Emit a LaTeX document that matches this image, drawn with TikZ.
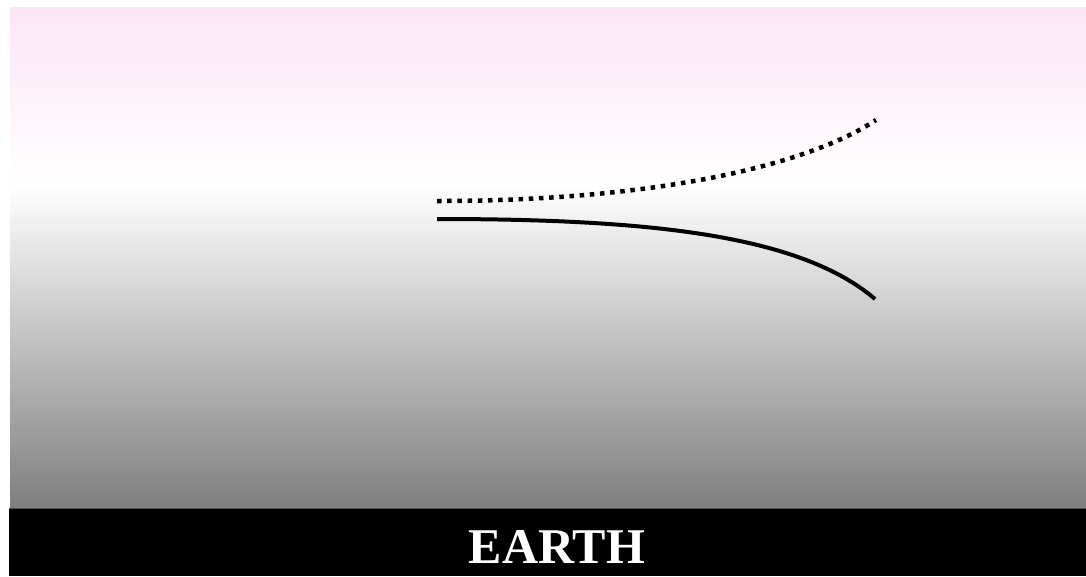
\documentclass[tikz,border=0pt]{standalone}
\usepackage{fontspec}
\setmainfont{Liberation Serif}
\definecolor{skypink}{RGB}{252,229,246}
\definecolor{groundgray}{RGB}{127,127,127}
\tikzset{
  curve/.style={line width=4pt},
  dotcurve/.style={line width=4.5pt, dash pattern=on 4.5pt off 5.7pt}
}
\begin{document}
\begin{tikzpicture}[x=1pt,y=-1pt]
\useasboundingbox (0,0) rectangle (1086,576);
\fill[white] (0,0) rectangle (1086,576);
% sky: pink to white, linear
\foreach \i in {0,...,178} {
  \pgfmathsetmacro{\p}{(100/178)*\i}
  \fill[white!\p!skypink] (10,7+\i) rectangle (1086,8.2+\i);
}
% ground haze: white to gray, linear
\foreach \i in {0,...,323} {
  \pgfmathsetmacro{\p}{100-(100/323)*\i}
  \fill[white!\p!groundgray] (10,185+\i) rectangle (1086,186.2+\i);
}
\fill[black] (9,508) rectangle (1086,576);
\draw[line width=1pt, color=black!70] (9,508) -- (1086,508);
\node[text=white, font=\fontsize{50}{50}\selectfont\bfseries, inner sep=0pt] (earth) at (557,547) {EARTH};
\coordinate (d0) at (437,201);
\coordinate (d3) at (876,120);
\coordinate (s0) at (437,219);
\coordinate (s3) at (875,299);
\draw[dotcurve] (d0) .. controls (650,201) and (805,167) .. (d3);
\draw[curve] (s0) .. controls (650,219) and (800,235) .. (s3);
\end{tikzpicture}
\end{document}
